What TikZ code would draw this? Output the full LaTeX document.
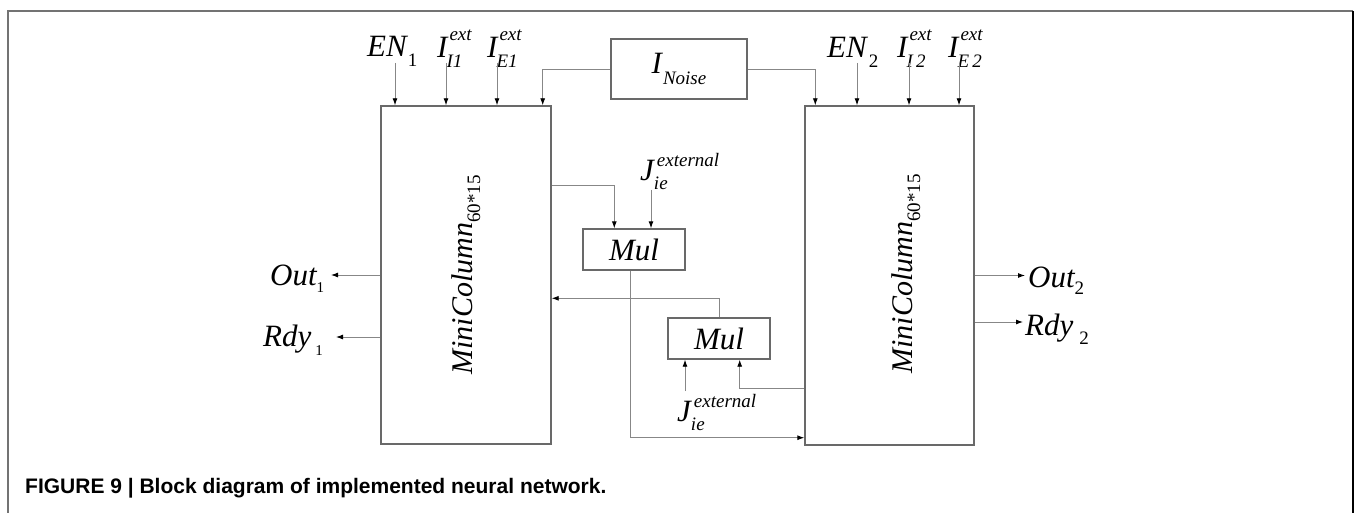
\documentclass[tikz,border=0pt]{standalone}
\usepackage{fontspec}
\setmainfont{Liberation Serif}
\newfontfamily\capfont{Liberation Sans}
\usetikzlibrary{arrows.meta,calc}
\definecolor{linegray}{RGB}{135,135,135}
\definecolor{boxgray}{RGB}{105,105,105}
\definecolor{framegray}{RGB}{115,115,115}
\newcommand\lsub[2][0.3em]{\raisebox{-#1}{\fontsize{19}{19}\selectfont #2}}
\newcommand\lsup[2][0.55em]{\raisebox{#1}{\fontsize{19}{19}\selectfont #2}}
\tikzset{
  box/.style={draw=boxgray, line width=1.4pt, rectangle, inner sep=0pt},
  arr/.style={draw=linegray, line width=0.9pt, -{Latex[length=7pt,width=5pt,color=black]}},
  lbl/.style={inner sep=0pt, anchor=base west, font=\fontsize{31}{31}\selectfont\itshape},
  frame/.style={line width=1.6pt}
}
\begin{document}
\begin{tikzpicture}[x=1pt,y=-1pt]
\useasboundingbox (0,0) rectangle (1356,513);
% frame
\draw[frame, draw=framegray] (8,513) -- (8,11) -- (1353,11);
\draw[frame, draw=black] (1353,11) -- (1353,513);

% main boxes
\node[box, minimum width=170pt, minimum height=338pt] (mc1) at (466,275) {};
\node[box, minimum width=169pt, minimum height=339pt] (mc2) at (889.5,275.5) {};
\node[box, minimum width=136pt, minimum height=60pt] (noise) at (679,69)
  {\fontsize{31}{31}\selectfont\itshape I\kern1pt\lsub[0.35em]{Noise}};
\node[box, minimum width=102pt, minimum height=41pt] (mul1) at (634,249.5)
  {\fontsize{31}{31}\selectfont\itshape Mul};
\node[box, minimum width=102pt, minimum height=41pt] (mul2) at (719,338.5)
  {\fontsize{31}{31}\selectfont\itshape Mul};

% rotated box texts
\node[inner sep=0pt, rotate=90, font=\fontsize{30}{30}\selectfont\itshape] (mc1t) at (466,275)
  {MiniColumn\lsub[0.25em]{\upshape 60*15}};
\node[inner sep=0pt, rotate=90, font=\fontsize{30}{30}\selectfont\itshape] (mc2t) at (906,274)
  {MiniColumn\lsub[0.25em]{\upshape 60*15}};

% top labels
\node[lbl] (en1) at (367,57) {EN\kern1pt\lsub{\upshape 1}};
\node[lbl] (ii1) at (437,58) {I\rlap{\kern2pt\lsup{ext}}\kern-1pt\lsub{I1}};
\node[lbl] (ie1) at (487,58) {I\rlap{\kern2pt\lsup{ext}}\kern-1pt\lsub{E1}};
\node[lbl] (en2) at (827,58) {EN\kern2pt\lsub{\upshape 2}};
\node[lbl] (ii2) at (897,58) {I\rlap{\kern2pt\lsup{ext}}\kern-1pt\lsub{I\,2}};
\node[lbl] (ie2) at (948,58) {I\rlap{\kern2pt\lsup{ext}}\kern-1pt\lsub{E\,2}};

% J labels
\node[lbl] (jt) at (640,180) {J\rlap{\kern3pt\lsup[0.45em]{external}}\lsub[0.3em]{ie}};
\node[lbl] (jb) at (677,421) {J\rlap{\kern3pt\lsup[0.45em]{external}}\lsub[0.3em]{ie}};

% side labels
\node[lbl] (out1) at (270,285) {Out\lsub[0.25em]{\upshape\fontsize{15}{15}\selectfont 1}};
\node[lbl] (rdy1) at (263,346) {Rdy\kern4pt\lsub[0.3em]{\upshape\fontsize{15}{15}\selectfont 1}};
\node[lbl] (out2) at (1028,287) {Out\lsub[0.25em]{\upshape 2}};
\node[lbl] (rdy2) at (1025,335) {Rdy\kern6pt\lsub[0.3em]{\upshape 2}};

% arrow start / end coordinates
\coordinate (en1a) at (395,63);
\coordinate (ii1a) at (446,63);
\coordinate (ie1a) at (497,63);
\coordinate (en2a) at (857,63);
\coordinate (ii2a) at (909,63);
\coordinate (ie2a) at (959,63);
\coordinate (jta) at (651,190);
\coordinate (jba) at (685,391);
\coordinate (out1e) at (331,275);
\coordinate (rdy1e) at (336,337);
\coordinate (out2e) at (1025,275.5);
\coordinate (rdy2e) at (1023,322);

% input arrows
\foreach \c in {en1a,ii1a,ie1a} \draw[arr] (\c) -- (\c |- mc1.north);
\foreach \c in {en2a,ii2a,ie2a} \draw[arr] (\c) -- (\c |- mc2.north);

% noise connectors
\draw[arr] (noise.west) -| ($(mc1.north east)+(-9,0)$);
\draw[arr] (noise.east) -| ($(mc2.north west)+(11,0)$);

% multipliers
\draw[arr] ($(mc1.north east)+(0,80)$) -| ($(mul1.north west)+(32,0)$);
\draw[arr] (jta) -- (jta |- mul1.north);
\draw[arr] ($(mul1.south)+(-4,0)$) |- ($(mc2.south west)+(0,-8)$);
\draw[arr] (mul2.north) |- ($(mc1.north east)+(0,193)$);
\draw[arr] ($(mc2.south west)+(0,-57)$) -| ($(mul2.south east)+(-31,0)$);
\draw[arr] (jba) -- (jba |- mul2.south);

% outputs
\draw[arr] (mc1.west) -- (out1e);
\draw[arr] ($(mc1.west)+(0,62)$) -- (rdy1e);
\draw[arr] (mc2.east) -- (out2e);
\draw[arr] ($(mc2.east)+(0,46.5)$) -- (rdy2e);

% caption
\node[inner sep=0pt, anchor=base west, font=\capfont\bfseries\fontsize{21}{21}\selectfont] (cap) at (25,493)
  {FIGURE 9 | Block diagram of implemented neural network.};
\end{tikzpicture}
\end{document}
